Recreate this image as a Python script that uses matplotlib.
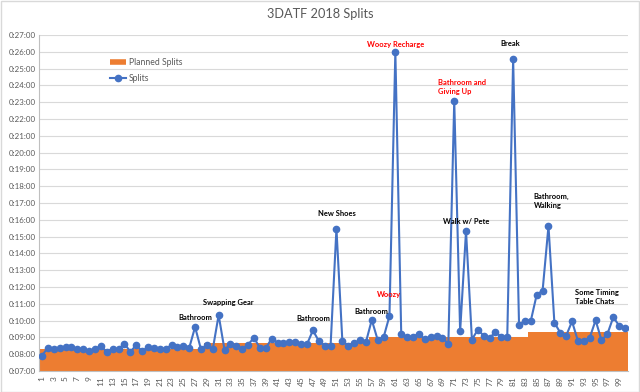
import numpy as np
import matplotlib
matplotlib.use("Agg")
import matplotlib.pyplot as plt
from matplotlib.lines import Line2D
from matplotlib.ticker import FuncFormatter, MultipleLocator

plt.rcParams['font.family'] = ['Lato', 'DejaVu Sans']

# split number 1..100, times in minutes
laps = np.arange(1, 101)
splits = [
    7.91, 8.39, 8.29, 8.37, 8.43, 8.43, 8.29, 8.29, 8.17, 8.29,
    8.51, 8.13, 8.29, 8.29, 8.63, 8.15, 8.53, 8.19, 8.41, 8.39,
    8.29, 8.33, 8.53, 8.45, 8.51, 8.37, 9.62, 8.29, 8.55, 8.29,
    10.33, 8.25, 8.61, 8.49, 8.29, 8.57, 8.98, 8.37, 8.37, 8.92,
    8.69, 8.65, 8.75, 8.75, 8.59, 8.59, 9.42, 8.79, 8.51, 8.47,
    15.47, 8.81, 8.49, 8.65, 8.85, 8.71, 10.04, 8.85, 9.00, 10.27,
    26.00, 9.18, 9.04, 9.04, 9.22, 8.88, 9.02, 9.08, 8.98, 8.61,
    23.07, 9.36, 15.33, 8.87, 9.46, 9.10, 8.98, 9.30, 9.04, 9.04,
    25.55, 9.76, 9.99, 9.99, 11.54, 11.78, 15.63, 9.88, 9.28, 9.10,
    9.95, 8.79, 8.79, 8.98, 10.02, 8.83, 9.20, 10.20, 9.70, 9.58,
]
# planned pace blocks: (number of splits, minutes per split)
plan_blocks = [(28, 8 + 18 / 60), (28, 8 + 40 / 60), (27, 9.0), (17, 9 + 20 / 60)]
planned = np.concatenate([[v] * n for n, v in plan_blocks])

# notes: (split, text, colour, x offset px, y offset px, alignment)
notes = [
    (27, "Bathroom", "black", 0, 6, "center"),
    (31, "Swapping Gear", "black", 10, 9, "center"),
    (47, "Bathroom", "black", 0, 8, "center"),
    (51, "New Shoes", "black", 0, 12, "center"),
    (57, "Bathroom", "black", 0, 5, "center"),
    (60, "Woozy", "red", 0, 18, "center"),
    (61, "Woozy Recharge", "red", 0, 4, "center"),
    (71, "Bathroom and\nGiving Up", "red", -16, 6, "left"),
    (81, "Break", "black", -3, 12, "center"),
    (73, "Walk w/ Pete", "black", 0, 6, "center"),
    (87, "Bathroom,\nWalking", "black", -15, 17, "left"),
    (95, "Some Timing\nTable Chats", "black", -21, 15, "left"),
]

orange = "#ED7D31"
blue = "#4472C4"
grey = "#595959"

fig = plt.figure(figsize=(6.4, 3.92), dpi=100)
ax = fig.add_axes([39 / 640, 1 - 371 / 392, 589 / 640, 336 / 392])

ax.bar(laps, planned, width=1.0, color=orange, zorder=2)
ax.plot(laps, splits, color=blue, lw=1.5, marker="o", ms=4.5, zorder=3)

ax.set_xlim(0.5, 100.5)
ax.set_ylim(7, 27)
ax.yaxis.set_major_locator(MultipleLocator(1))
ax.yaxis.set_major_formatter(FuncFormatter(lambda v, p: f"0:{int(round(v)):02d}:00"))
ax.set_xticks(laps[::2])
ax.set_xticklabels([str(n) for n in laps[::2]], rotation=90)
ax.tick_params(axis="x", length=0, labelsize=6.0, colors=grey, pad=4)
ax.tick_params(axis="y", length=0, labelsize=5.7, colors=grey, pad=2.5)
ax.grid(axis="y", color="#d9d9d9", lw=0.8, zorder=0)
ax.set_axisbelow(True)
for side in ["top", "right"]:
    ax.spines[side].set_visible(False)
for side in ["left", "bottom"]:
    ax.spines[side].set_color("#bfbfbf")
    ax.spines[side].set_linewidth(0.8)

for lap, txt, col, dx, dy, ha in notes:
    ax.annotate(txt, xy=(lap, splits[lap - 1]), xytext=(dx, dy), textcoords="offset pixels",
                ha=ha, va="bottom", fontsize=5.4, color=col, fontweight="bold",
                linespacing=1.35, zorder=5)

fig.text(0.5, 1 - 14 / 392, "3DATF 2018 Splits", ha="center", va="center", fontsize=9.2, color=grey)

handles = [Line2D([], [], color=orange, lw=4, solid_capstyle="butt"),
           Line2D([], [], color=blue, lw=1.5, marker="o", ms=4.5)]
fig.legend(handles, ["Planned Splits", "Splits"], loc="upper left",
           bbox_to_anchor=(110 / 640, 1 - 58 / 392), frameon=False, fontsize=6.2,
           labelcolor=grey, handlelength=1.9, handletextpad=0.3, labelspacing=0.85,
           borderpad=0, borderaxespad=0)

fig.patches.append(plt.Rectangle((0.001, 0.001), 0.998, 0.997, transform=fig.transFigure,
                                 fill=False, edgecolor="#d9d9d9", lw=1))

fig.savefig("out.png", dpi=100)
